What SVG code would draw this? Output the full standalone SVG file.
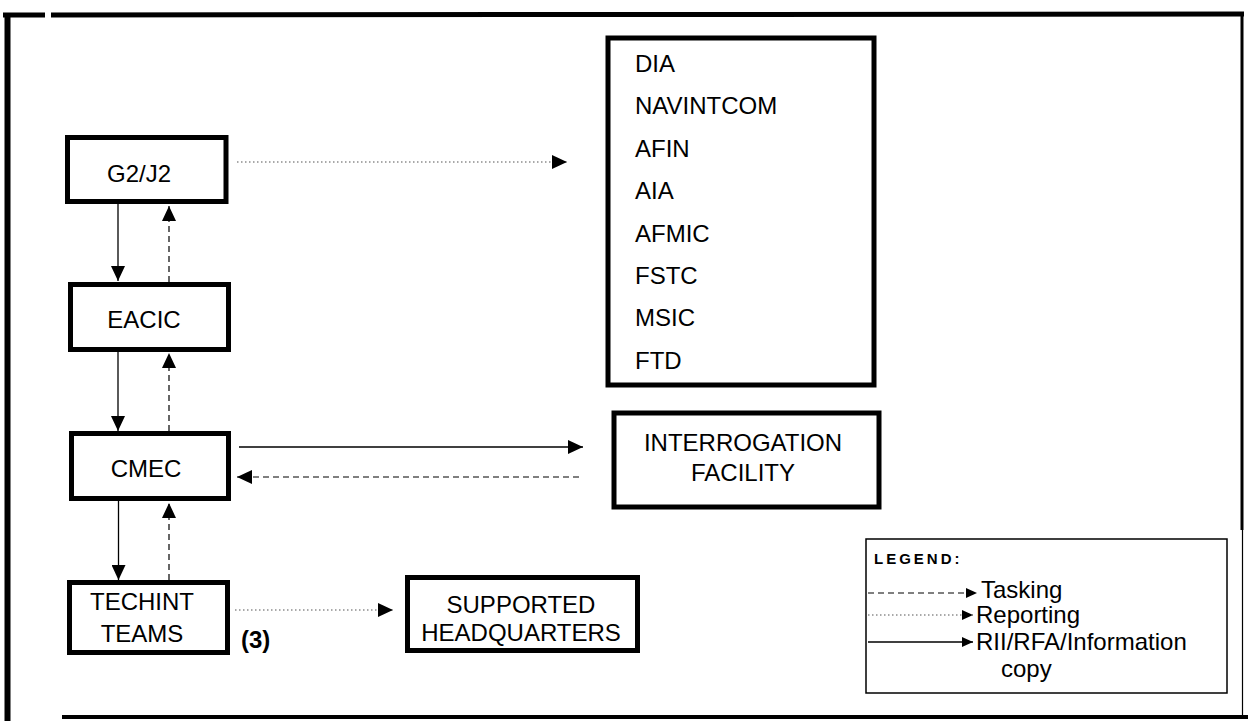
<svg xmlns="http://www.w3.org/2000/svg" width="1248" height="721" viewBox="0 0 1248 721">
<style>
.box{fill:#fff;stroke:#000;stroke-width:5}
.lbl{font-family:"Liberation Sans",Arial,Helvetica,sans-serif;font-size:24px;fill:#000}
.mid{text-anchor:middle}
.solid{stroke:#000;stroke-width:1.3;fill:none}
.dash{stroke:#000;stroke-width:1.2;fill:none;stroke-dasharray:6 4}
.dot{stroke:#555;stroke-width:1.1;fill:none;stroke-dasharray:1.5 2.5}
.frame{stroke:#000;fill:none}
</style>
<defs>
<marker id="ah" viewBox="0 0 15 14" refX="15" refY="7" markerWidth="15" markerHeight="14" markerUnits="userSpaceOnUse" orient="auto">
<path d="M0,0 L15,7 L0,14 Z" fill="#000"/>
</marker>
<marker id="ahs" viewBox="0 0 11 10" refX="11" refY="5" markerWidth="11" markerHeight="10" markerUnits="userSpaceOnUse" orient="auto">
<path d="M0,0 L11,5 L0,10 Z" fill="#000"/>
</marker>
</defs>
<rect width="1248" height="721" fill="#fff"/>
<g id="frame">
<line class="frame" x1="3" y1="15" x2="45" y2="15" stroke-width="5"/>
<line class="frame" x1="51" y1="15" x2="1244" y2="14" stroke-width="5"/>
<line class="frame" x1="7.5" y1="13" x2="7.5" y2="721" stroke-width="6"/>
<line class="frame" x1="1242" y1="12" x2="1242" y2="530" stroke-width="3"/>
<line class="frame" x1="1242.5" y1="530" x2="1242.5" y2="715" stroke-width="1.2" stroke="#777"/>
<line class="frame" x1="62" y1="717" x2="1248" y2="717" stroke-width="4"/>
</g>
<g id="connectors">
<line class="dot" x1="237" y1="162" x2="567" y2="162" marker-end="url(#ah)"/>
<line class="solid" x1="118" y1="204" x2="118" y2="281" marker-end="url(#ah)"/>
<line class="dash" x1="169" y1="282" x2="169" y2="206" marker-end="url(#ah)"/>
<line class="solid" x1="118" y1="352" x2="118" y2="431" marker-end="url(#ah)"/>
<line class="dash" x1="169" y1="431" x2="169" y2="353" marker-end="url(#ah)"/>
<line class="solid" x1="239" y1="447" x2="583" y2="447" marker-end="url(#ah)"/>
<line class="dash" x1="579" y1="477" x2="237" y2="477" marker-end="url(#ah)"/>
<line class="solid" x1="118.5" y1="501" x2="118.5" y2="580" marker-end="url(#ah)"/>
<line class="dash" x1="169" y1="580" x2="169" y2="503" marker-end="url(#ah)"/>
<line class="dot" x1="235" y1="610" x2="393" y2="610" marker-end="url(#ah)"/>
</g>
<g id="g2j2">
<rect class="box" x="67.5" y="137.5" width="158.5" height="64"/>
<text class="lbl mid" x="139" y="182">G2/J2</text>
</g>
<g id="eacic">
<rect class="box" x="70.5" y="284.5" width="158" height="65"/>
<text class="lbl mid" x="144" y="328">EACIC</text>
</g>
<g id="cmec">
<rect class="box" x="71.5" y="433.5" width="157" height="65"/>
<text class="lbl mid" x="146" y="477">CMEC</text>
</g>
<g id="techint">
<rect class="box" x="69.5" y="582.5" width="158" height="70"/>
<text class="lbl mid" x="142" y="610">TECHINT</text>
<text class="lbl mid" x="142" y="642">TEAMS</text>
<text class="lbl" x="241" y="648" font-weight="bold">(3)</text>
</g>
<g id="agencies">
<rect class="box" x="608" y="38" width="266" height="347" stroke-width="6"/>
<text class="lbl" x="635" y="72">DIA</text>
<text class="lbl" x="635" y="114.4">NAVINTCOM</text>
<text class="lbl" x="635" y="156.8">AFIN</text>
<text class="lbl" x="635" y="199.2">AIA</text>
<text class="lbl" x="635" y="241.6">AFMIC</text>
<text class="lbl" x="635" y="284">FSTC</text>
<text class="lbl" x="635" y="326.4">MSIC</text>
<text class="lbl" x="635" y="368.8">FTD</text>
</g>
<g id="interrogation">
<rect class="box" x="614" y="413" width="265" height="94" stroke-width="6"/>
<text class="lbl mid" x="743" y="451">INTERROGATION</text>
<text class="lbl mid" x="743" y="481">FACILITY</text>
</g>
<g id="supported">
<rect class="box" x="407.5" y="577.5" width="230" height="73"/>
<text class="lbl mid" x="521" y="613">SUPPORTED</text>
<text class="lbl mid" x="521" y="641">HEADQUARTERS</text>
</g>
<g id="legend">
<rect x="866" y="539" width="361" height="154" fill="none" stroke="#000" stroke-width="1.5"/>
<text x="874" y="564" font-family="Liberation Sans, Arial, sans-serif" font-size="15" font-weight="bold" letter-spacing="3">LEGEND:</text>
<line class="dash" x1="868" y1="593" x2="977" y2="593" marker-end="url(#ahs)"/>
<text class="lbl" x="981" y="598">Tasking</text>
<line class="dot" x1="868" y1="615" x2="973" y2="615" marker-end="url(#ahs)"/>
<text class="lbl" x="976" y="623">Reporting</text>
<line class="solid" x1="868" y1="642" x2="973" y2="642" marker-end="url(#ahs)"/>
<text class="lbl" x="976" y="650">RII/RFA/Information</text>
<text class="lbl" x="1001" y="677">copy</text>
</g>
</svg>
